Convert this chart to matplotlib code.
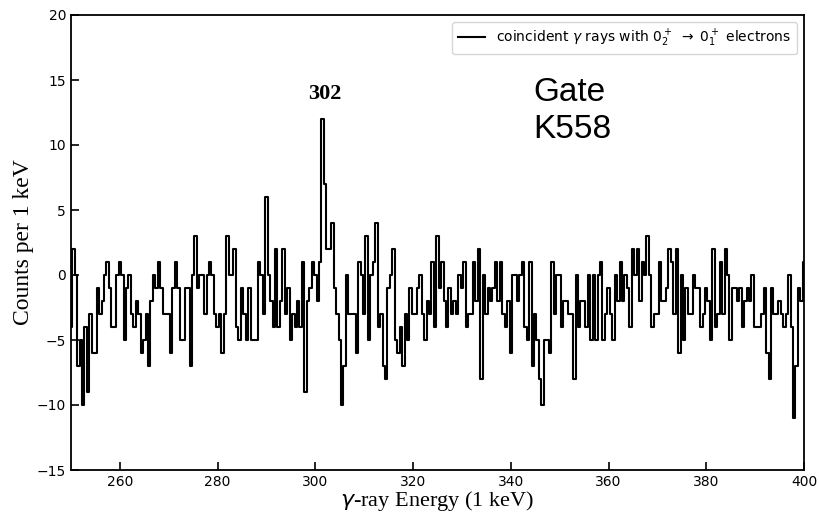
import numpy as np
import matplotlib
matplotlib.use("Agg")
import matplotlib.pyplot as plt

# Background-subtracted counts per 0.5 keV bin, starting at 250 keV
counts = [
    -4, 2, 0, -7, -5, -10, -4, -9, -3, -6,
    -6, -1, -3, -2, 0, 1, -1, -4, -4, 0,
    1, 0, -5, -1, 0, -3, -4, -2, -3, -6,
    -5, -3, -7, -2, 0, -1, 1, -1, -3, -3,
    -3, -6, -1, 1, -1, -5, -5, -1, -1, -7,
    0, 3, -1, 0, 0, -3, 0, 1, 0, -3,
    -4, -3, -6, -3, 3, 0, 0, 2, -4, -5,
    -1, -3, -5, -1, -5, -5, -5, 1, 0, -3,
    6, 0, -2, -4, 2, -4, -2, 2, -3, -1,
    -5, -3, -4, -2, -4, 1, -9, -2, -1, 1,
    0, -2, 1, 12, 7, 2, 2, 4, -1, -3,
    -5, -10, -7, 0, -3, -3, -3, -6, 1, 0,
    -3, 3, -5, 0, 1, 4, -4, -3, -7, -8,
    -1, 0, 2, -5, -6, -4, -7, -3, -5, -1,
    -3, -3, -1, 0, -3, -5, -2, -3, 1, -4,
    3, -1, 1, -2, -4, -1, -3, -2, -3, 0,
    -1, 1, -4, -3, -3, 1, -2, 2, -8, 0,
    -3, -1, -2, -1, 1, -2, 1, -3, -4, -2,
    -6, 0, 0, -2, 0, 1, -4, -5, 1, -7,
    -3, -5, -8, -10, -5, -5, -6, 1, -3, 0,
    0, -4, -2, -2, -3, -3, -8, 0, -4, -2,
    -2, -4, 0, -5, 0, -5, 0, 1, -5, -3,
    -1, -3, -5, 0, -2, 1, -2, 0, -1, -4,
    2, 0, 2, -2, 1, 0, 3, 0, -4, -3,
    -3, 1, -2, -2, -1, 2, 1, -3, 2, -6,
    0, -5, -1, -3, -3, 0, -1, -1, -4, -3,
    -1, -2, -5, 2, -4, -3, 1, -3, 2, 0,
    -5, -1, -1, -2, -1, -4, -2, -1, -2, 0,
    -4, -4, -4, -3, -1, -6, -8, -1, -3, -3,
    -2, -3, -4, -3, 0, -4, -11, -7, -1, -2,
    1, -3,
]
start_energy = 250.0
bin_width = 0.5
energy = start_energy + bin_width * np.arange(len(counts))

legend_label = r"coincident $\gamma$ rays with $0_2^+$ $\rightarrow$ $0_1^+$ electrons"
peak_label = "302"
peak_pos = (302, 13.9)
gate_text = "Gate\nK558"
gate_pos = (344.6, 15.2)
xticks = [260, 280, 300, 320, 340, 360, 380, 400]
yticks = [-15, -10, -5, 0, 5, 10, 15, 20]

fig = plt.figure(figsize=(8.19, 5.12), dpi=100)
ax = fig.add_axes([71/819, 42/512, 733/819, 455/512])

ax.step(energy, counts, where="mid", color="black", lw=1.5, label=legend_label)

ax.set_xlim(250, 400)
ax.set_ylim(-15, 20)
ax.set_xticks(xticks)
ax.set_yticks(yticks)
ax.tick_params(direction="in", length=6, width=1.2, labelsize=10,
               top=False, right=False)
for s in ax.spines.values():
    s.set_linewidth(1.3)

ax.set_xlabel(r"$\gamma$-ray Energy (1 keV)", family="Liberation Serif",
              fontsize=16, labelpad=0)
ax.set_ylabel("Counts per 1 keV", family="Liberation Serif", fontsize=17,
              labelpad=2)

ax.text(peak_pos[0], peak_pos[1], peak_label, family="Liberation Serif",
        fontweight="bold", fontsize=16, ha="center", va="center")
ax.text(gate_pos[0], gate_pos[1], gate_text, family="Liberation Sans",
        fontsize=24, ha="left", va="top", linespacing=1.22)

ax.legend(loc="upper right", fontsize=10)

fig.savefig("out.png", dpi=100)
